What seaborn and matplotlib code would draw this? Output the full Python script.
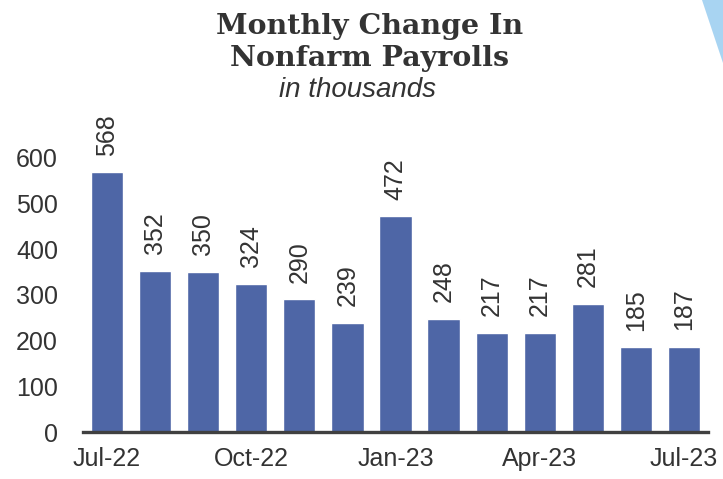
import matplotlib
matplotlib.use('Agg')
import matplotlib.pyplot as plt
import matplotlib.patches as mpatches
import seaborn as sns
import pandas as pd

sns.set_theme(style='white')
plt.rcParams['font.family'] = ['Liberation Sans', 'DejaVu Sans']

months = ['Jul-22', 'Aug-22', 'Sep-22', 'Oct-22', 'Nov-22', 'Dec-22', 'Jan-23',
          'Feb-23', 'Mar-23', 'Apr-23', 'May-23', 'Jun-23', 'Jul-23']
payrolls = [568, 352, 350, 324, 290, 239, 472, 248, 217, 217, 281, 185, 187]
shown_ticks = ['Jul-22', 'Oct-22', 'Jan-23', 'Apr-23', 'Jul-23']
yticks = [0, 100, 200, 300, 400, 500, 600]

BAR = '#4E66A6'
TEXT = '#333333'

df = pd.DataFrame({'month': months, 'value': payrolls})

fig = plt.figure(figsize=(7.23, 4.79), dpi=100)
ax = fig.add_axes([0.1148, 0.098, 0.8645, 0.668])

sns.barplot(data=df, x='month', y='value', color=BAR, width=0.67,
            saturation=1, ax=ax)

for i, v in enumerate(payrolls):
    ax.annotate(f'{v}', (i, v), xytext=(0, 12), textcoords='offset points',
                rotation=90, ha='center', va='bottom', fontsize=18,
                color=TEXT, annotation_clip=False)

ax.set_xlim(-0.5, len(months) - 0.5)
ax.set_ylim(0, 700)
ax.set_yticks(yticks)
ax.set_xticks([months.index(m) for m in shown_ticks])
ax.set_xticklabels(shown_ticks)
ax.tick_params(axis='both', length=0, labelsize=18, colors=TEXT)
ax.tick_params(axis='y', pad=18)
ax.tick_params(axis='x', pad=11)
ax.set_xlabel('')
ax.set_ylabel('')
for s in ['left', 'right', 'top']:
    ax.spines[s].set_visible(False)
ax.spines['bottom'].set_color('#404040')
ax.spines['bottom'].set_linewidth(2.4)

fig.text(0.511, 0.972, 'Monthly Change In\nNonfarm Payrolls', ha='center', va='top',
         fontsize=20.5, fontweight='bold', family='DejaVu Serif', color=TEXT,
         linespacing=1.23)
fig.text(0.494, 1 - 90 / 479, 'in thousands', ha='center', va='center', fontsize=20,
         style='italic', color=TEXT)

# decorative corner triangle
fig.patches.append(mpatches.Polygon([(702 / 723, 1), (1, 1), (1, 1 - 63 / 479)],
                                    closed=True, transform=fig.transFigure,
                                    facecolor='#A8D4F2', edgecolor='none'))

fig.savefig('out.png', dpi=100)
